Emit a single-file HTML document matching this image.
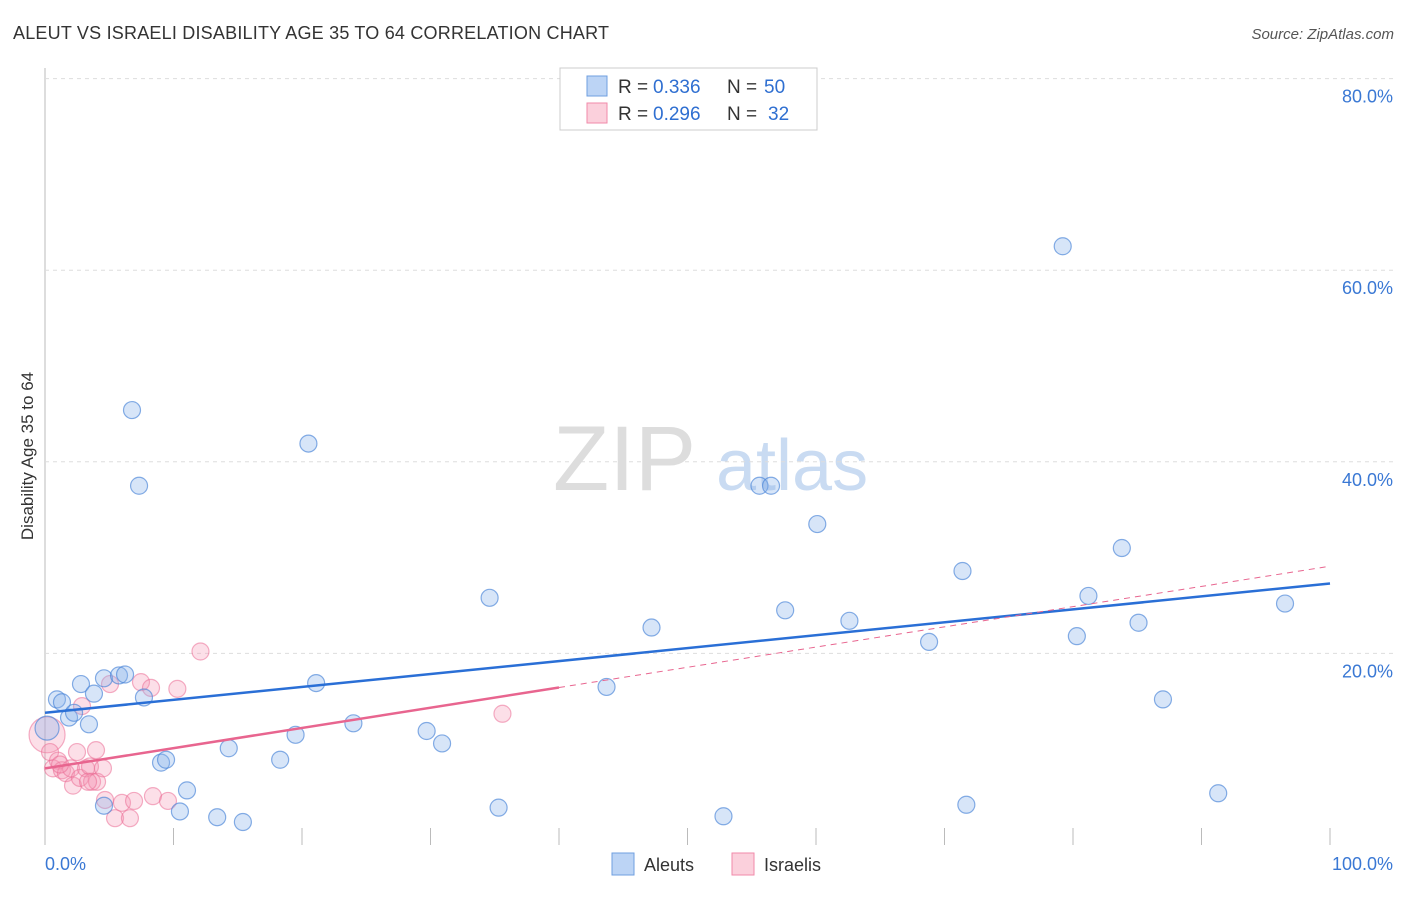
<!DOCTYPE html>
<html><head><meta charset="utf-8"><style>
body{margin:0;background:#fff;font-family:"Liberation Sans",sans-serif;}
svg text{font-family:"Liberation Sans",sans-serif;}
</style></head><body>
<svg id="c" width="1406" height="892">
<text x="13" y="39" font-size="18" fill="#333" textLength="596">ALEUT VS ISRAELI DISABILITY AGE 35 TO 64 CORRELATION CHART</text>
<text x="1394" y="39" font-size="15" fill="#555" font-style="italic" text-anchor="end">Source: ZipAtlas.com</text>
<text x="33" y="456" font-size="17" fill="#333" transform="rotate(-90 33 456)" text-anchor="middle">Disability Age 35 to 64</text>
<g><text x="553" y="490" font-size="92" fill="#ddd" font-family="Liberation Serif">ZIP</text><text x="716" y="490" font-size="72" fill="#c9dbf2">atlas</text></g>
<g id="grid"></g><g id="pts"></g><g id="lines"></g>
<g>
<rect x="560" y="68" width="257" height="62" fill="#fff" stroke="#ccc"/>
<rect x="587" y="76" width="20" height="20" fill="#bcd4f5" stroke="#6f9fe0"/>
<rect x="587" y="103" width="20" height="20" fill="#fbd0dc" stroke="#f08aaa"/>
<text x="618" y="93" font-size="19" fill="#333">R =</text><text x="653" y="93" font-size="19" fill="#2f6fd1">0.336</text>
<text x="727" y="93" font-size="19" fill="#333">N =</text><text x="764" y="93" font-size="19" fill="#2f6fd1">50</text>
<text x="618" y="120" font-size="19" fill="#333">R =</text><text x="653" y="120" font-size="19" fill="#2f6fd1">0.296</text>
<text x="727" y="120" font-size="19" fill="#333">N =</text><text x="768" y="120" font-size="19" fill="#2f6fd1">32</text>
</g>
<g>
<rect x="612" y="853" width="22" height="22" fill="#bcd4f5" stroke="#6f9fe0"/>
<text x="644" y="871" font-size="18" fill="#333">Aleuts</text>
<rect x="732" y="853" width="22" height="22" fill="#fbd0dc" stroke="#f08aaa"/>
<text x="764" y="871" font-size="18" fill="#333">Israelis</text>
</g>
<text x="45" y="870" font-size="18" fill="#3a78d4">0.0%</text>
<text x="1393" y="870" font-size="18" fill="#3a78d4" text-anchor="end">100.0%</text>
</svg>
<script>
const aleutX=[0.93,1.32,1.87,2.26,2.8,3.42,3.81,4.59,4.59,5.76,6.23,6.77,7.32,7.7,9.03,9.42,10.5,11.05,13.4,14.3,15.4,18.3,19.5,20.5,21.1,24.0,29.7,30.9,34.6,35.3,43.7,47.2,52.8,55.6,56.5,57.6,60.1,62.6,68.8,71.4,71.7,79.2,80.3,81.2,83.8,85.1,87.0,91.3,96.5,0.16];
const aleutY=[15.2,14.9,13.3,13.8,16.8,12.6,15.8,17.4,4.1,17.7,17.8,45.4,37.5,15.4,8.6,8.9,3.5,5.7,2.9,10.1,2.4,8.9,11.5,41.9,16.9,12.7,11.9,10.6,25.8,3.9,16.5,22.7,3.0,37.5,37.5,24.5,33.5,23.4,21.2,28.6,4.2,62.5,21.8,26.0,31.0,23.2,15.2,5.4,25.2,12.2];
const israeliX=[0.16,0.39,0.62,1.01,1.32,1.63,2.02,2.18,2.49,2.72,2.88,3.19,3.5,3.66,3.97,4.05,4.51,4.67,5.06,5.45,5.99,6.61,6.93,7.47,8.25,8.4,9.57,10.3,12.1,35.6,1.17,3.35];
const israeliY=[11.5,9.7,8.0,8.8,7.8,7.5,8.0,6.2,9.7,7.0,14.5,8.0,8.2,6.6,9.9,6.6,8.0,4.7,16.8,2.8,4.4,2.8,4.6,17.0,16.4,5.1,4.6,16.3,20.2,13.7,8.4,6.6];
const yTicks=[20,40,60,80];
const xTicks=[0,10,20,30,40,50,60,70,80,90,100];
const aleutTrend=[13.8,27.3];
const israeliTrend=[8.0,29.1];
const sx=v=>45+v*12.85, sy=v=>845-v*9.58;
const NS='http://www.w3.org/2000/svg';
function mk(p,t,a){const e=document.createElementNS(NS,t);for(const k in a)e.setAttribute(k,a[k]);p.appendChild(e);return e;}
const grid=document.getElementById('grid');
const ax=mk(grid,'line',{x1:45,y1:68,x2:45,y2:845,stroke:'#bbb'});


yTicks.forEach(t=>{
 const l=mk(grid,'line',{x1:45,x2:1393,y1:sy(t),y2:sy(t),stroke:'#ddd','stroke-dasharray':'4,4'});
 
 
 const tx=mk(grid,'text',{x:1393,y:sy(t)+24,'font-size':18,fill:'#3a78d4','text-anchor':'end'});
 tx.textContent=t.toFixed(1)+'%';
 
 
});
xTicks.forEach(t=>{
 const l=mk(grid,'line',{x1:sx(t),x2:sx(t),y1:828,y2:845,stroke:'#bbb'});
 
 
});
const pts=document.getElementById('pts');
israeliX.forEach((x,i)=>{
 const c=mk(pts,'circle',{cx:sx(x),cy:sy(israeliY[i]),r:i===0?18:8.5,fill:'rgba(245,150,180,0.3)',stroke:'rgba(235,110,150,0.55)','stroke-width':1.2});
 
 
});
aleutX.forEach((x,i)=>{
 const c=mk(pts,'circle',{cx:sx(x),cy:sy(aleutY[i]),r:i===49?12:8.5,fill:'rgba(140,180,235,0.35)',stroke:'rgba(70,130,215,0.65)','stroke-width':1.2});
 
 
});
const lines=document.getElementById('lines');
const bl=mk(lines,'line',{x1:sx(0),y1:sy(aleutTrend[0]),x2:sx(100),y2:sy(aleutTrend[1]),stroke:'#2a6fd6','stroke-width':2.5});


const iy=x=>israeliTrend[0]+(israeliTrend[1]-israeliTrend[0])*x/100;
const pl=mk(lines,'line',{x1:sx(0),y1:sy(iy(0)),x2:sx(40),y2:sy(iy(40)),stroke:'#e8658f','stroke-width':2.5});


const pd=mk(lines,'line',{x1:sx(40),y1:sy(iy(40)),x2:sx(100),y2:sy(iy(100)),stroke:'#e8658f','stroke-width':1,'stroke-dasharray':'6,5'});


</script>
</body></html>
